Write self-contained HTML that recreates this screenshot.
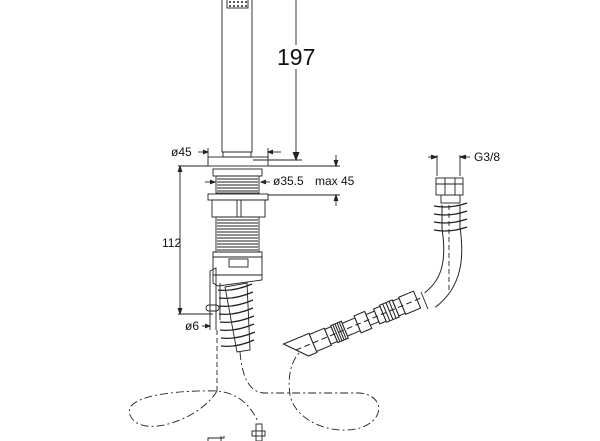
<!DOCTYPE html>
<html><head><style>
html,body{margin:0;padding:0;background:#fff;}
svg{display:block;font-family:"Liberation Sans",sans-serif;}
</style></head><body>
<svg width="600" height="441" viewBox="0 0 600 441" xmlns="http://www.w3.org/2000/svg">
<g fill="none" stroke="#222" stroke-width="0.9">
<!-- handshower -->
<rect x="222" y="-2" width="30" height="154" fill="#fff"/>
<rect x="227" y="-2" width="21" height="10"/>
<g fill="#222" stroke="none">
<circle cx="230" cy="2" r="1"/><circle cx="234" cy="2" r="1"/><circle cx="238" cy="2" r="1"/><circle cx="242" cy="2" r="1"/><circle cx="246" cy="2" r="1"/>
<circle cx="230" cy="6" r="1"/><circle cx="234" cy="6" r="1"/><circle cx="238" cy="6" r="1"/><circle cx="242" cy="6" r="1"/><circle cx="246" cy="6" r="1"/>
</g>
<rect x="223" y="152" width="28" height="5"/>
<rect x="208" y="157" width="60" height="9"/>
<!-- 197 dim -->
<line x1="296" y1="0" x2="296" y2="158"/>
<path d="M293,152 L296,160 L299,152" fill="#222"/>
<line x1="253" y1="160" x2="302" y2="160"/>
<rect x="276" y="45" width="42" height="24" fill="#fff" stroke="none"/>
<!-- ø45 -->
<line x1="208" y1="148" x2="208" y2="157"/><line x1="268" y1="148" x2="268" y2="157"/>
<line x1="198" y1="152" x2="206" y2="152"/><line x1="270" y1="152" x2="281" y2="152"/>
<path d="M203,150 L208,152 L203,154" fill="#222"/><path d="M273,150 L268,152 L273,154" fill="#222"/>
<!-- extension lines -->
<line x1="178" y1="166" x2="208" y2="166"/><line x1="268" y1="166" x2="340" y2="166"/>
<line x1="268" y1="195" x2="340" y2="195"/>
<line x1="336" y1="155" x2="336" y2="166"/><path d="M334,160 L336,166 L338,160" fill="#222"/>
<line x1="336" y1="195" x2="336" y2="206"/><path d="M334,201 L336,195 L338,201" fill="#222"/>
<!-- thread -->
<rect x="213" y="169" width="49" height="7"/>
<rect x="216" y="176" width="43" height="17"/>
<path d="M217,179h41M217,182h41M217,185h41M217,188h41M217,191h41"/>
<line x1="205" y1="182" x2="214" y2="182"/><path d="M210,180 L215,182 L210,184" fill="#222"/>
<line x1="262" y1="182" x2="270" y2="182"/><path d="M266,180 L261,182 L266,184" fill="#222"/>
<!-- hex nut -->
<rect x="208" y="194" width="60" height="6"/>
<rect x="212" y="200" width="53" height="17"/>
<line x1="237" y1="200" x2="237" y2="217"/><line x1="241" y1="200" x2="241" y2="217"/>
<!-- long thread -->
<rect x="216" y="217" width="43" height="35"/>
<path d="M217,220h41M217,223h41M217,226h41M217,229h41M217,232h41M217,235h41M217,238h41M217,241h41M217,244h41M217,247h41M217,250h41"/>
<!-- connector -->
<path d="M213,252 H262 V280 L218,286 L213,283 Z" fill="#fff"/>
<line x1="213" y1="257" x2="262" y2="257"/>
<rect x="229" y="259" width="19" height="8"/>
<line x1="213" y1="275" x2="262" y2="275"/>
<!-- small tube -->
<path d="M210,271 L216,268 V330 M210,271 V330 M220,283 V320"/>
<rect x="206" y="305" width="13" height="6" rx="3"/>
<line x1="205" y1="314" x2="213" y2="314"/>
<!-- coil hose -->
<path d="M225,287 L247,283 L250,350 L237,352 Z" fill="#fff"/>
<g stroke-width="1.3">
<path d="M218,290 q15,2 34,-6 M219,298 q15,2 34,-6 M219,306 q15,2 34,-6 M219,314 q15,2 34,-6 M220,322 q15,2 34,-6 M220,330 q15,2 34,-6 M221,338 q15,2 34,-6 M221,346 q15,2 33,-6"/>
</g>
<!-- 112 dim -->
<line x1="180" y1="166" x2="180" y2="314"/>
<path d="M178,172 L180,166 L182,172" fill="#222"/><path d="M178,308 L180,314 L182,308" fill="#222"/>
<line x1="178" y1="314" x2="213" y2="314"/>
<line x1="202" y1="326" x2="209" y2="326"/><path d="M205,324 L210,326 L205,328" fill="#222"/>
<!-- dashed/dash-dot lines -->
<line x1="217" y1="330" x2="217" y2="391" stroke-dasharray="5,3"/>
<path d="M217,391 C200,420 140,440 130,415 C122,395 180,390 217,391 C240,393 252,408 258,422" stroke-dasharray="8,3,2,3"/>
<path d="M240,352 C242,378 250,393 265,393 L360,393 C385,396 385,420 360,428 C330,436 295,420 290,395 C287,375 292,360 300,352" stroke-dasharray="8,3,2,3"/>
<!-- small fittings bottom -->
<rect x="256" y="424" width="6" height="17"/><rect x="252" y="431" width="13" height="5"/>
<path d="M208,441 V438 H224 V436 M221,441 V436"/>
<!-- right hose tube -->
<path d="M430,300 C454,282 455,255 451,228 L451,205" stroke="#222" stroke-width="19" stroke-linecap="butt"/>
<path d="M430,300 C454,282 455,255 451,228 L451,204" stroke="#fff" stroke-width="17" stroke-linecap="butt"/>
<path d="M428,304 L436,299" stroke="#fff" stroke-width="10"/>
<path d="M421,292 L428,309"/>
<line x1="449" y1="205" x2="449" y2="290" stroke-dasharray="5,3"/>
<!-- right fitting coil -->
<rect x="441" y="195" width="19" height="8"/>
<path d="M434,206 q16,3 33,-3 M434,214 q16,3 33,-3 M434,222 q16,3 33,-3 M434,230 q16,3 33,-3" stroke-width="1.3"/>
<rect x="436" y="178" width="27" height="17" fill="#fff"/>
<line x1="436" y1="184" x2="463" y2="184"/><line x1="445" y1="178" x2="445" y2="195"/><line x1="455" y1="178" x2="455" y2="195"/>
<line x1="437" y1="155" x2="437" y2="176"/><line x1="460" y1="155" x2="460" y2="176"/>
<line x1="428" y1="157" x2="435" y2="157"/><path d="M431,155 L437,157 L431,159" fill="#222"/>
<line x1="462" y1="157" x2="470" y2="157"/><path d="M466,155 L460,157 L466,159" fill="#222"/>
<!-- hose assembly diagonal -->
<g transform="translate(296,350) rotate(-22.6) scale(1.15)">
<path d="M-8,-9 L16,-9 L16,9 L8,9 Z" fill="#fff"/>
<rect x="16" y="-8" width="14" height="16" fill="#fff"/>
<rect x="30" y="-7" width="6" height="14" fill="#fff"/>
<rect x="36" y="-8" width="10" height="16" fill="#fff"/>
<path d="M38,-8v16M40,-8v16M42,-8v16M44,-8v16"/>
<rect x="46" y="-6" width="12" height="12" fill="#fff"/>
<rect x="58" y="-8" width="10" height="16" fill="#fff"/>
<rect x="68" y="-5" width="8" height="10" fill="#fff"/>
<rect x="76" y="-7" width="6" height="14" fill="#fff"/>
<rect x="82" y="-8" width="12" height="16" fill="#fff"/>
<path d="M85,-8v16M88,-8v16M91,-8v16"/>
<rect x="94" y="-7" width="6" height="14" fill="#fff"/>
<path d="M100,-8 L114,-8 L114,8 L100,8 Z" fill="#fff"/>
<line x1="0" y1="0" x2="120" y2="0" stroke-dasharray="5,3"/>
</g>
</g>
<g fill="#111" font-size="12">
<text x="277" y="65" font-size="23">197</text>
<text x="171" y="156">ø45</text>
<text x="273" y="185">ø35.5</text>
<text x="315" y="185">max 45</text>
<text x="162" y="247">112</text>
<text x="185" y="330">ø6</text>
<text x="474" y="161">G3/8</text>
</g>
</svg>
</body></html>
